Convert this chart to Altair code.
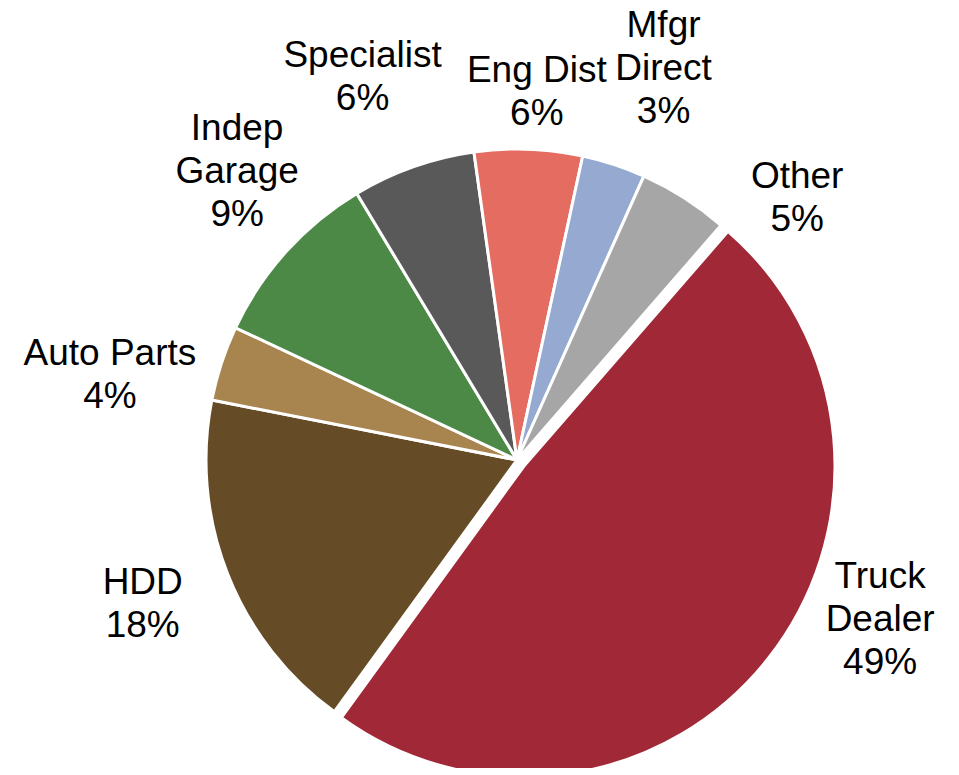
import math
import altair as alt
import pandas as pd

categories = ["Truck Dealer", "HDD", "Auto Parts", "Indep Garage",
              "Specialist", "Eng Dist", "Mfgr Direct", "Other"]
label_names = ["Truck\nDealer", "HDD", "Auto Parts", "Indep\nGarage",
               "Specialist", "Eng Dist", "Mfgr\nDirect", "Other"]
values = [48.6, 18.1, 3.9, 9.4, 6.4, 5.6, 3.3, 4.7]
colors = ["#A02837", "#654C26", "#A8854F", "#4D8946",
          "#595959", "#E46C61", "#95A9D1", "#A6A6A6"]

df = pd.DataFrame({
    "cat": categories,
    "name": label_names,
    "value": values,
    "order": list(range(len(categories))),
})

start_angle = math.radians(41)
theta_scale = alt.Scale(domain=[0, 100], range=[start_angle, start_angle + 2 * math.pi])
color_scale = alt.Scale(domain=categories, range=colors)

CX, CY = 509, 452          # pie centre in plot coordinates
EX, EY = 7, 6              # explode offset of the first slice
R = 311
LR = 400
LH = 43
FONT = "Liberation Sans"

base = (
    alt.Chart(df)
    .transform_window(cum="sum(value)", sort=[{"field": "order"}], frame=[None, 0])
    .transform_calculate(
        start="datum.cum - datum.value",
        mid="datum.cum - datum.value / 2",
        label="datum.name + '\\n' + format(datum.value, '.0f') + '%'",
    )
)

arcs_main = base.transform_filter(alt.datum.cat != categories[0]).mark_arc(
    outerRadius=R, stroke="white", strokeWidth=3
).encode(
    theta=alt.Theta("start:Q", scale=theta_scale),
    theta2="cum:Q",
    color=alt.Color("cat:N", scale=color_scale, legend=None),
    x=alt.value(CX), y=alt.value(CY),
)

arcs_explode = base.transform_filter(alt.datum.cat == categories[0]).mark_arc(
    outerRadius=R, stroke="white", strokeWidth=3
).encode(
    theta=alt.Theta("start:Q", scale=theta_scale),
    theta2="cum:Q",
    color=alt.Color("cat:N", scale=color_scale, legend=None),
    x=alt.value(CX + EX), y=alt.value(CY + EY),
)

# small per-label nudges emulating the spreadsheet's label placement
nudges = {
    "Truck Dealer": (43, -95),
    "HDD": (-2, -2),
    "Auto Parts": (-27, 40),
    "Indep Garage": (17, -20),
    "Specialist": (-21, -5),
    "Eng Dist": (5, 32),
    "Mfgr Direct": (22, -11),
    "Other": (65, 76),
}

text_layers = []
for i, c in enumerate(categories):
    dx, dy = nudges[c]
    n_lines = label_names[i].count("\n") + 2
    dy = dy - (n_lines - 1) * LH / 2   # centre the whole block
    ox, oy = (EX, EY) if i == 0 else (0, 0)
    t = base.transform_filter(alt.datum.cat == c).mark_text(
        radius=LR, font=FONT, fontSize=37, lineHeight=LH, lineBreak="\n",
        align="center", baseline="middle", color="black", dx=dx, dy=dy,
    ).encode(
        theta=alt.Theta("mid:Q", scale=theta_scale, stack=None),
        text="label:N",
        x=alt.value(CX + ox), y=alt.value(CY + oy),
    )
    text_layers.append(t)

chart = alt.layer(arcs_main, arcs_explode, *text_layers).properties(
    width=943, height=760, padding=0, autosize="none",
).configure_view(stroke=None)

chart.save("out.html", embed_options={"renderer": "svg", "actions": False})
